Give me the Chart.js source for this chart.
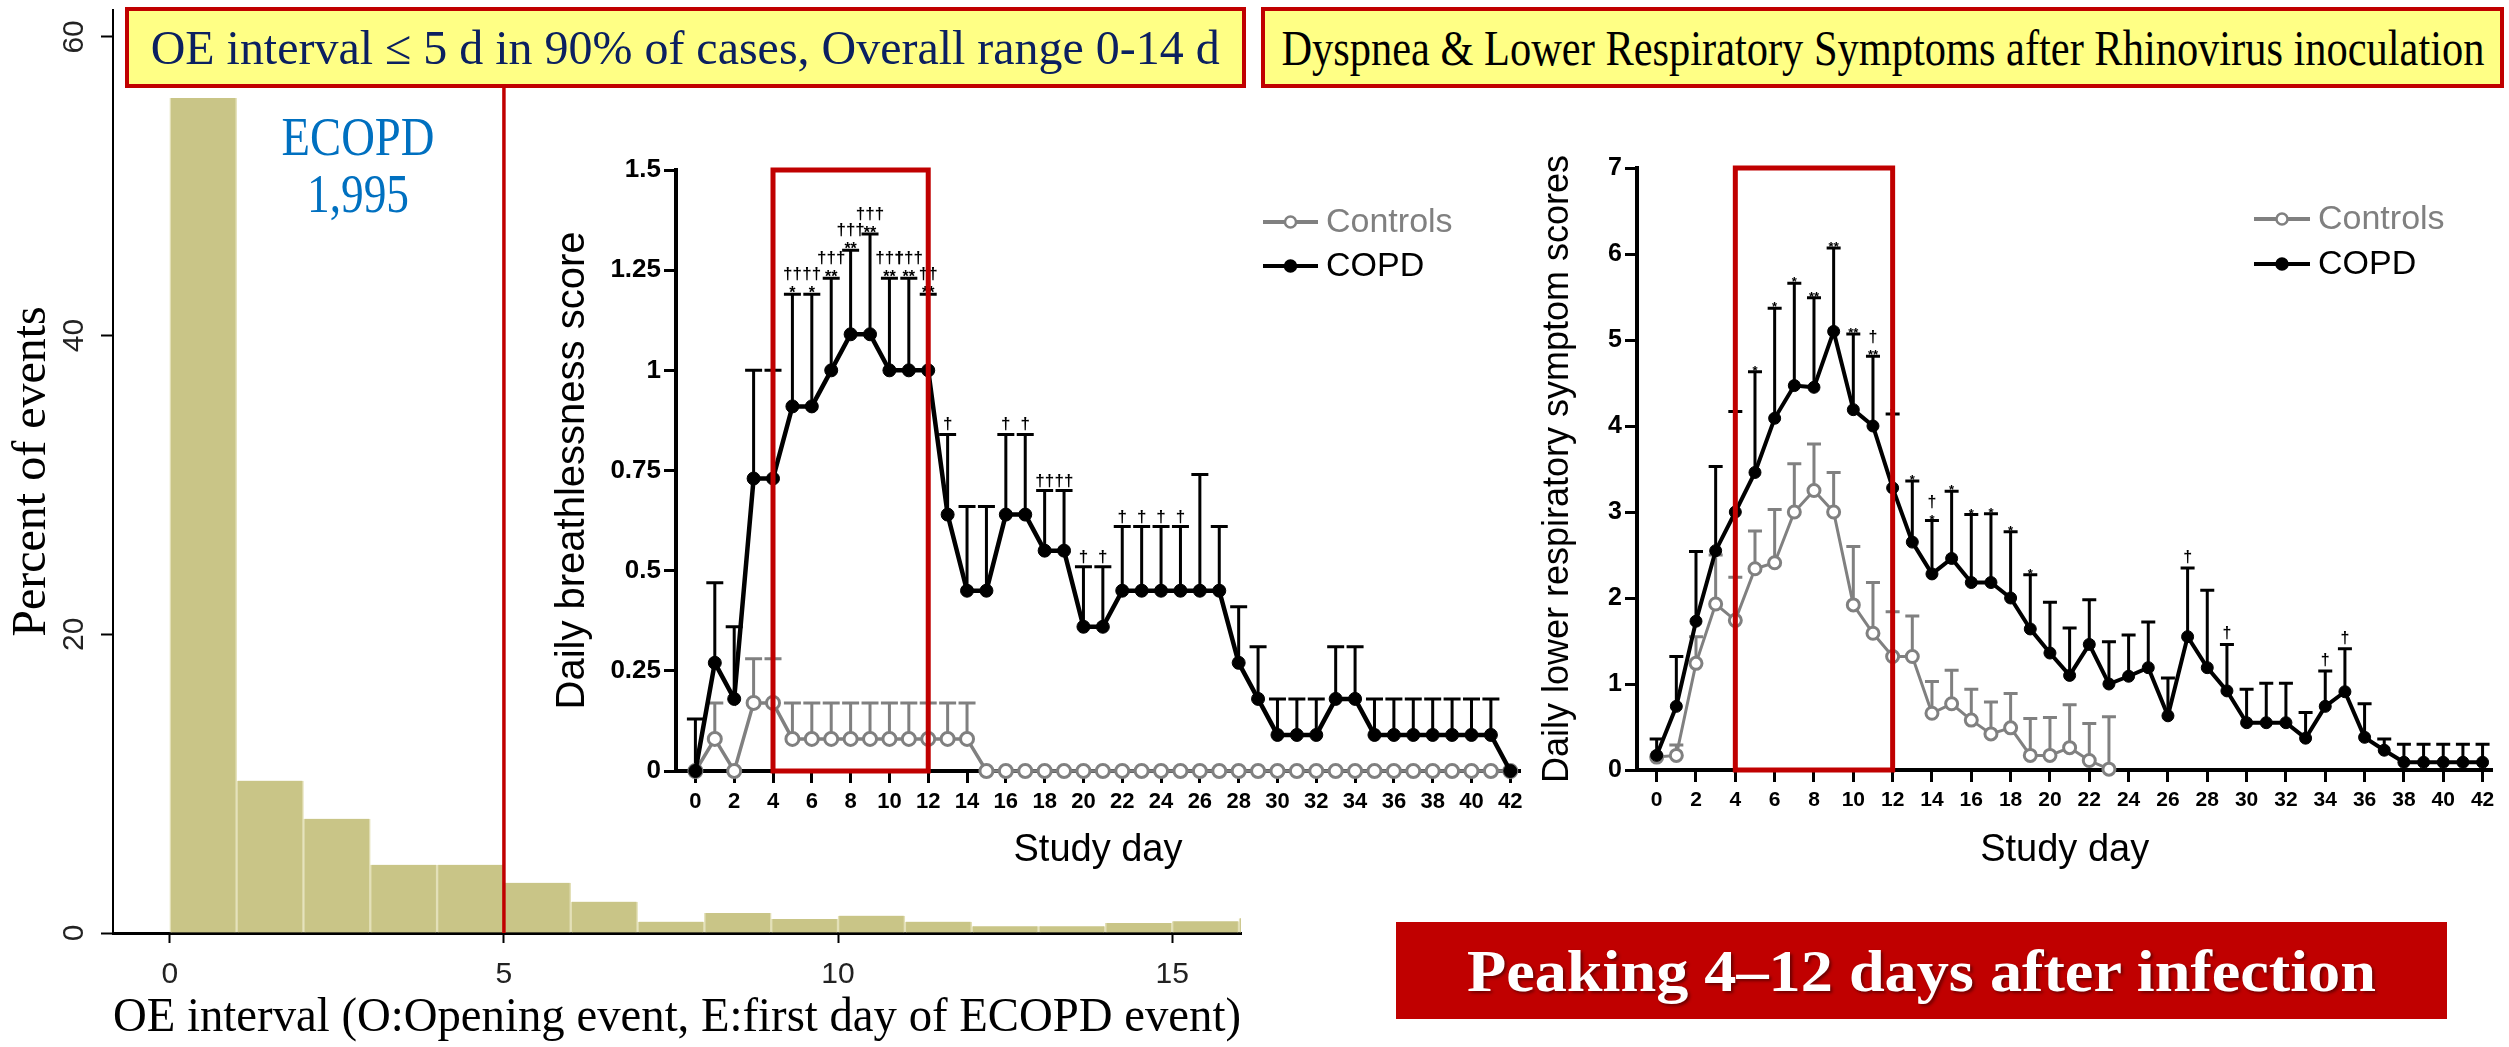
<!DOCTYPE html>
<html>
<head>
<meta charset="utf-8">
<title>Opening event to ECOPD interval and symptom course after rhinovirus inoculation</title>
<script src="https://cdn.jsdelivr.net/npm/chart.js@4.4.1/dist/chart.umd.min.js"></script>
<style>
  html, body { margin: 0; padding: 0; background: #ffffff; }
  #stage { position: relative; width: 2509px; height: 1047px; overflow: hidden; background: #ffffff; }
  .plot { position: absolute; }
  .plot canvas { display: block; }
  .serif { font-family: "Liberation Serif", "Times New Roman", serif; }
  .note { position: absolute; box-sizing: border-box; border: 4px solid #C00000; background: #FFFF85;
          display: flex; align-items: center; justify-content: center; overflow: hidden; }
  .note span, .banner span { display: inline-block; white-space: nowrap; line-height: 1; transform-origin: 50% 50%; }
  .tag { position: absolute; white-space: nowrap; line-height: 1; transform-origin: 50% 50%; }
  .banner { position: absolute; background: #C00000; display: flex; align-items: center; justify-content: center; }
</style>
</head>
<body>
<div id="stage">
  <div class="plot" style="left:0px;top:0px;z-index:1"><canvas id="hist" width="1260" height="1047"></canvas></div>
  <div class="plot" style="left:530px;top:140px;z-index:2"><canvas id="breath" width="1000" height="760"></canvas></div>
  <div class="plot" style="left:1500px;top:140px;z-index:2"><canvas id="lrs" width="1009" height="760"></canvas></div>

  <div class="note" style="left:125px;top:7px;width:1121px;height:81px;z-index:3">
    <span class="serif fit" data-w="1069" style="font-size:49px;color:#0B2060">OE interval ≤ 5 d in 90% of cases, Overall range 0-14 d</span>
  </div>
  <div class="note" style="left:1261px;top:7px;width:1243px;height:81px;z-index:3">
    <span class="serif fit" data-w="1203" style="font-size:50px;color:#000000">Dyspnea &amp; Lower Respiratory Symptoms after Rhinovirus inoculation</span>
  </div>
  <div class="tag serif fit" data-w="153" data-center="1" style="left:358px;top:110px;font-size:54px;color:#0070C0;z-index:3">ECOPD</div>
  <div class="tag serif fit" data-w="102" data-center="1" style="left:358px;top:167px;font-size:54px;color:#0070C0;z-index:3">1,995</div>
  <div class="banner" style="left:1396px;top:922px;width:1051px;height:97px;z-index:3">
    <span class="serif fit" data-w="909" style="font-size:60px;font-weight:bold;color:#ffffff;text-shadow:2px 2px 3px rgba(0,0,0,0.45)">Peaking 4–12 days after infection</span>
  </div>
</div>

<script>
// ---------- Histogram: OE interval (days) ----------
const oeBinStart = [0, 1, 2, 3, 4, 5, 6, 7, 8, 9, 10, 11, 12, 13, 14, 15, 16];
const oePercent  = [55.9, 10.2, 7.65, 4.57, 4.57, 3.36, 2.1, 0.76, 1.34, 0.94, 1.16, 0.76, 0.45, 0.45, 0.67, 0.78, 0.98];
const oeXTicks = [0, 5, 10, 15];
const oeYTicks = [0, 20, 40, 60];
const oeCutoff = 5;

// ---------- Study days after inoculation ----------
const studyDays = [0, 1, 2, 3, 4, 5, 6, 7, 8, 9, 10, 11, 12, 13, 14, 15, 16, 17, 18, 19, 20,
                   21, 22, 23, 24, 25, 26, 27, 28, 29, 30, 31, 32, 33, 34, 35, 36, 37, 38, 39, 40, 41, 42];
const dayTicks = [0, 2, 4, 6, 8, 10, 12, 14, 16, 18, 20, 22, 24, 26, 28, 30, 32, 34, 36, 38, 40, 42];
const peakWindow = [4, 12];

// ---------- Daily breathlessness score (mean and upper error limit) ----------
const breathYTicks  = [0, 0.25, 0.5, 0.75, 1, 1.25, 1.5];
const breathYLabels = ['0', '0.25', '0.5', '0.75', '1', '1.25', '1.5'];
const breathCtrl      = [0, 0.08, 0, 0.17, 0.17, 0.08, 0.08, 0.08, 0.08, 0.08, 0.08, 0.08, 0.08, 0.08, 0.08,
                         0, 0, 0, 0, 0, 0, 0, 0, 0, 0, 0, 0, 0, 0, 0, 0, 0, 0, 0, 0, 0, 0, 0, 0, 0, 0, 0, 0];
const breathCtrlUpper = [null, 0.17, null, 0.28, 0.28, 0.17, 0.17, 0.17, 0.17, 0.17, 0.17, 0.17, 0.17, 0.17, 0.17];
const breathCopd      = [0, 0.27, 0.18, 0.73, 0.73, 0.91, 0.91, 1.0, 1.09, 1.09, 1.0, 1.0, 1.0, 0.64, 0.45,
                         0.45, 0.64, 0.64, 0.55, 0.55, 0.36, 0.36, 0.45, 0.45, 0.45, 0.45, 0.45, 0.45, 0.27,
                         0.18, 0.09, 0.09, 0.09, 0.18, 0.18, 0.09, 0.09, 0.09, 0.09, 0.09, 0.09, 0.09, 0];
const breathCopdUpper = [0.13, 0.47, 0.36, 1.0, 1.0, 1.19, 1.19, 1.23, 1.30, 1.34, 1.23, 1.23, 1.19, 0.84, 0.66,
                         0.66, 0.84, 0.84, 0.70, 0.70, 0.51, 0.51, 0.61, 0.61, 0.61, 0.61, 0.74, 0.61, 0.41,
                         0.31, 0.18, 0.18, 0.18, 0.31, 0.31, 0.18, 0.18, 0.18, 0.18, 0.18, 0.18, 0.18, null];
const breathStars   = [[5, '*'], [6, '*'], [7, '**'], [8, '**'], [9, '**'], [10, '**'], [11, '**'], [12, '**']];
const breathDaggers = [[5, '††'], [6, '††'], [7, '†††'], [8, '†††'], [9, '†††'], [10, '†††'], [11, '†††'], [12, '††'],
                       [13, '†'], [16, '†'], [17, '†'], [18, '††'], [19, '††'], [20, '†'], [21, '†'],
                       [22, '†'], [23, '†'], [24, '†'], [25, '†']];

// ---------- Daily lower respiratory symptom scores ----------
const lrsYTicks = [0, 1, 2, 3, 4, 5, 6, 7];
const lrsCtrl      = [0.15, 0.17, 1.24, 1.93, 1.74, 2.34, 2.41, 3.0, 3.25, 3.0, 1.92, 1.59, 1.32, 1.32, 0.66,
                      0.77, 0.58, 0.42, 0.49, 0.17, 0.17, 0.26, 0.11, 0.01];
const lrsCtrlUpper = [null, 0.29, 1.55, 2.50, 2.24, 2.78, 3.03, 3.56, 3.79, 3.46, 2.60, 2.18, 1.84, 1.79, 1.03,
                      1.16, 0.94, 0.79, 0.89, 0.60, 0.61, 0.76, 0.54, 0.62];
const lrsCopd      = [0.17, 0.74, 1.73, 2.55, 3.0, 3.46, 4.09, 4.47, 4.45, 5.10, 4.19, 4.0, 3.28, 2.65, 2.28,
                      2.46, 2.18, 2.18, 2.0, 1.64, 1.36, 1.10, 1.46, 1.0, 1.09, 1.19, 0.63, 1.55, 1.19, 0.92,
                      0.55, 0.55, 0.55, 0.37, 0.74, 0.91, 0.38, 0.23, 0.09, 0.09, 0.09, 0.09, 0.09];
const lrsCopdUpper = [0.36, 1.32, 2.54, 3.53, 4.17, 4.63, 5.37, 5.66, 5.49, 6.07, 5.07, 4.81, 4.14, 3.36, 2.90,
                      3.24, 2.97, 2.98, 2.77, 2.27, 1.95, 1.65, 1.98, 1.49, 1.57, 1.72, 1.07, 2.35, 2.09, 1.46,
                      0.94, 1.01, 1.01, 0.67, 1.15, 1.41, 0.77, 0.36, 0.30, 0.30, 0.30, 0.30, 0.30];
const lrsStars   = [[5, '*'], [6, '*'], [7, '*'], [8, '**'], [9, '**'], [10, '**'], [11, '**'], [12, '*'],
                    [13, '*'], [14, '*'], [15, '*'], [16, '*'], [17, '*'], [18, '*'], [19, '*']];
const lrsDaggers = [[11, '†'], [14, '†'], [27, '†'], [29, '†'], [34, '†'], [35, '†']];

// ---------- Scale helpers ----------
const fixedTicks = list => scale => { scale.ticks = list.map(v => ({ value: v })); };
const fixWidth = w => scale => { scale.width = w; };
const fixHeight = h => scale => { scale.height = h; };
const asPoints = vals => vals.map((v, i) => ({ x: studyDays[i], y: v }));

// Stretch each text run horizontally to its set width
document.querySelectorAll('.fit').forEach(el => {
  const w = el.getBoundingClientRect().width;
  const s = (+el.dataset.w) / w;
  el.style.transform = (el.dataset.center ? 'translateX(-50%) ' : '') + 'scaleX(' + s + ')';
});

// ---------- Plugins ----------
// Rotated y labels and the cut-off line of the histogram
const oeOverlay = {
  id: 'oeOverlay',
  afterDatasetsDraw(chart, args, o) {
    const { ctx, chartArea } = chart;
    const x = chart.scales.x, y = chart.scales.y;
    ctx.save();
    ctx.strokeStyle = '#C00000';
    ctx.lineWidth = 3.5;
    const px = x.getPixelForValue(oeCutoff);
    ctx.beginPath(); ctx.moveTo(px, chartArea.top); ctx.lineTo(px, chartArea.bottom); ctx.stroke();
    ctx.fillStyle = '#222';
    ctx.font = '30px "Liberation Sans", Arial, sans-serif';
    ctx.textAlign = 'center';
    ctx.textBaseline = 'middle';
    oeYTicks.forEach(v => {
      ctx.save();
      ctx.translate(o.labelX, y.getPixelForValue(v));
      ctx.rotate(-Math.PI / 2);
      ctx.fillText(String(v), 0, 0);
      ctx.restore();
    });
    ctx.restore();
  }
};

// One-sided error bars from each dataset's errorUpper list
const errorBars = {
  id: 'errorBars',
  beforeDatasetsDraw(chart, args, o) {
    const { ctx } = chart;
    const y = chart.scales.y;
    chart.data.datasets.forEach((ds, di) => {
      if (!ds.errorUpper) return;
      const meta = chart.getDatasetMeta(di);
      ctx.save();
      ctx.strokeStyle = ds.borderColor;
      ctx.lineWidth = o.width;
      meta.data.forEach((pt, i) => {
        const up = ds.errorUpper[i];
        if (up == null || ds.data[i] == null || ds.data[i].y == null) return;
        const yTop = y.getPixelForValue(up);
        ctx.beginPath();
        ctx.moveTo(pt.x, pt.y); ctx.lineTo(pt.x, yTop);
        ctx.moveTo(pt.x - o.cap, yTop); ctx.lineTo(pt.x + o.cap, yTop);
        ctx.stroke();
      });
      ctx.restore();
    });
  }
};

// Significance symbols above the COPD error bars
const sigMarks = {
  id: 'sigMarks',
  afterDatasetsDraw(chart, args, o) {
    const { ctx } = chart;
    const x = chart.scales.x, y = chart.scales.y;
    const ds = chart.data.datasets[o.datasetIndex];
    const stars = new Map(o.stars), daggers = new Map(o.daggers);
    const marked = new Set([...stars.keys(), ...daggers.keys()]);
    ctx.save();
    ctx.fillStyle = '#000';
    ctx.textAlign = 'center';
    ctx.textBaseline = 'alphabetic';
    marked.forEach(d => {
      const top = y.getPixelForValue(ds.errorUpper[d]);
      const px = x.getPixelForValue(d);
      if (stars.has(d)) {
        ctx.font = o.starFont;
        ctx.fillText(stars.get(d), px, top + o.starDrop);
        if (daggers.has(d)) { ctx.font = o.daggerFont; ctx.fillText(daggers.get(d), px, top - o.daggerRaise); }
      } else {
        ctx.font = o.daggerFont;
        ctx.fillText(daggers.get(d), px, top - o.daggerAlone);
      }
    });
    ctx.restore();
  }
};

// Red frame around the peak window
const peakFrame = {
  id: 'peakFrame',
  afterDraw(chart, args, o) {
    const { ctx } = chart;
    const x = chart.scales.x, y = chart.scales.y;
    const l = x.getPixelForValue(peakWindow[0]), r = x.getPixelForValue(peakWindow[1]);
    const t = y.getPixelForValue(o.top), b = y.getPixelForValue(0);
    ctx.save();
    ctx.strokeStyle = '#C00000';
    ctx.lineWidth = 5;
    ctx.strokeRect(l, t, r - l, b - t);
    ctx.restore();
  }
};

// Series key drawn inside the plot
const seriesKey = {
  id: 'seriesKey',
  afterDraw(chart, args, o) {
    const { ctx } = chart;
    ctx.save();
    chart.data.datasets.forEach((ds, i) => {
      const yy = o.y + i * o.rowGap;
      ctx.strokeStyle = ds.borderColor;
      ctx.lineWidth = o.lineWidth;
      ctx.beginPath(); ctx.moveTo(o.x, yy); ctx.lineTo(o.x + o.lineLen, yy); ctx.stroke();
      ctx.beginPath(); ctx.arc(o.x + o.lineLen / 2, yy, o.radius, 0, Math.PI * 2);
      ctx.fillStyle = ds.pointBackgroundColor; ctx.fill();
      ctx.lineWidth = o.markerBorder; ctx.strokeStyle = ds.pointBorderColor; ctx.stroke();
      ctx.fillStyle = ds.borderColor;
      ctx.font = o.font;
      ctx.textAlign = 'left';
      ctx.textBaseline = 'middle';
      ctx.fillText(ds.label, o.x + o.lineLen + o.textGap, yy + 1);
    });
    ctx.restore();
  }
};

const sans = 'Liberation Sans';
const serif = 'Liberation Serif';

// ---------- Histogram ----------
new Chart(document.getElementById('hist'), {
  type: 'bar',
  data: {
    datasets: [{
      data: oeBinStart.map((s, i) => ({ x: s + 0.5, y: oePercent[i] })),
      backgroundColor: '#C9C587',
      borderColor: '#E3E0B8',
      borderWidth: { left: 1.5, right: 1.5, top: 0, bottom: 0 },
      borderSkipped: 'start',
      barPercentage: 1,
      categoryPercentage: 1,
      clip: 0
    }]
  },
  options: {
    responsive: false, animation: false, events: [],
    layout: { padding: { left: 0, top: 10, right: 19, bottom: 0 } },
    plugins: { legend: { display: false }, tooltip: { enabled: false }, oeOverlay: { labelX: 75 } },
    scales: {
      x: {
        type: 'linear', min: -0.85, max: 16.03, offset: false,
        afterBuildTicks: fixedTicks(oeXTicks), afterFit: fixHeight(114),
        grid: { offset: false, drawOnChartArea: false, drawTicks: true, tickLength: 10, tickWidth: 2, tickColor: '#000' },
        border: { display: true, color: '#000', width: 3 },
        ticks: { font: { family: sans, size: 30 }, color: '#222', padding: 14, maxRotation: 0, autoSkip: false },
        title: { display: true, text: 'OE interval (O:Opening event, E:first day of ECOPD event)',
                 font: { family: serif, size: 48 }, color: '#000', padding: { top: 0, bottom: 0 } }
      },
      y: {
        min: 0, max: 61.8,
        afterBuildTicks: fixedTicks(oeYTicks), afterFit: fixWidth(113),
        grid: { drawOnChartArea: false, drawTicks: true, tickLength: 12, tickWidth: 2, tickColor: '#000' },
        border: { display: true, color: '#000', width: 2 },
        ticks: { display: false },
        title: { display: true, text: 'Percent of events', font: { family: serif, size: 48 }, color: '#000',
                 padding: { top: 4, bottom: 0 } }
      }
    }
  },
  plugins: [oeOverlay]
});

// ---------- Shared day axis ----------
function dayAxis(height, titlePad, labelSize) {
  return {
    type: 'linear', min: -1, max: 42.5,
    afterBuildTicks: fixedTicks(dayTicks), afterFit: fixHeight(height),
    grid: { drawOnChartArea: false, drawTicks: true, tickLength: 12, tickWidth: 3, tickColor: '#000' },
    border: { display: true, color: '#000', width: 4 },
    ticks: { font: { family: sans, size: labelSize, weight: 'bold' }, color: '#000', padding: 6,
             maxRotation: 0, autoSkip: false },
    title: { display: true, text: 'Study day', font: { family: sans, size: 38 }, color: '#000',
             padding: { top: 0, bottom: titlePad } }
  };
}

function seriesStyle(isCopd, lineW, radius) {
  return isCopd
    ? { borderColor: '#000000', borderWidth: lineW, pointRadius: radius, pointBackgroundColor: '#000000',
        pointBorderColor: '#000000', pointBorderWidth: 1, order: 0 }
    : { borderColor: '#808080', borderWidth: lineW - 1, pointRadius: radius, pointBackgroundColor: '#ffffff',
        pointBorderColor: '#808080', pointBorderWidth: 3, order: 1 };
}

// ---------- Daily breathlessness score ----------
new Chart(document.getElementById('breath'), {
  type: 'line',
  data: {
    datasets: [
      Object.assign({ label: 'Controls', data: asPoints(breathCtrl), errorUpper: breathCtrlUpper,
                      tension: 0, clip: false }, seriesStyle(false, 4.5, 6.5)),
      Object.assign({ label: 'COPD', data: asPoints(breathCopd), errorUpper: breathCopdUpper,
                      tension: 0, clip: false }, seriesStyle(true, 4.5, 6.5))
    ]
  },
  options: {
    responsive: false, animation: false, events: [],
    layout: { padding: { left: 10, top: 30, right: 10, bottom: 0 } },
    plugins: {
      legend: { display: false }, tooltip: { enabled: false },
      errorBars: { width: 3, cap: 8.5 },
      sigMarks: { datasetIndex: 1, stars: breathStars, daggers: breathDaggers,
                  starFont: 'bold 16px "Liberation Sans", Arial, sans-serif',
                  daggerFont: 'bold 17px "Liberation Sans", Arial, sans-serif',
                  starDrop: 4, daggerRaise: 15, daggerAlone: 5 },
      peakFrame: { top: 1.5 },
      seriesKey: { x: 733, y: 82, rowGap: 44, lineLen: 55, lineWidth: 4, radius: 5.5, markerBorder: 2.5,
                   textGap: 8, font: '34px "Liberation Sans", Arial, sans-serif' }
    },
    scales: {
      x: dayAxis(129, 27, 22),
      y: {
        min: 0, max: 1.5,
        afterBuildTicks: fixedTicks(breathYTicks), afterFit: fixWidth(136),
        grid: { drawOnChartArea: false, drawTicks: true, tickLength: 12, tickWidth: 3, tickColor: '#000' },
        border: { display: true, color: '#000', width: 4 },
        ticks: { font: { family: sans, size: 26, weight: 'bold' }, color: '#000', padding: 3,
                 callback: (v, i) => breathYLabels[i] },
        title: { display: true, text: 'Daily breathlessness score', font: { family: sans, size: 40 }, color: '#000',
                 padding: { top: 9, bottom: 0 } }
      }
    }
  },
  plugins: [errorBars, sigMarks, peakFrame, seriesKey]
});

// ---------- Daily lower respiratory symptom scores ----------
new Chart(document.getElementById('lrs'), {
  type: 'line',
  data: {
    datasets: [
      Object.assign({ label: 'Controls', data: asPoints(lrsCtrl), errorUpper: lrsCtrlUpper,
                      tension: 0, clip: false }, seriesStyle(false, 4, 6)),
      Object.assign({ label: 'COPD', data: asPoints(lrsCopd), errorUpper: lrsCopdUpper,
                      tension: 0, clip: false }, seriesStyle(true, 4, 6))
    ]
  },
  options: {
    responsive: false, animation: false, events: [],
    layout: { padding: { left: 10, top: 28, right: 16.6, bottom: 0 } },
    plugins: {
      legend: { display: false }, tooltip: { enabled: false },
      errorBars: { width: 3, cap: 7 },
      sigMarks: { datasetIndex: 1, stars: lrsStars, daggers: lrsDaggers,
                  starFont: 'bold 13px "Liberation Sans", Arial, sans-serif',
                  daggerFont: 'bold 16px "Liberation Sans", Arial, sans-serif',
                  starDrop: 3, daggerRaise: 14, daggerAlone: 6 },
      peakFrame: { top: 7 },
      seriesKey: { x: 754, y: 79, rowGap: 45, lineLen: 56, lineWidth: 4, radius: 5.5, markerBorder: 2.5,
                   textGap: 8, font: '34px "Liberation Sans", Arial, sans-serif' }
    },
    scales: {
      x: dayAxis(130, 27, 21),
      y: {
        min: 0, max: 7,
        afterBuildTicks: fixedTicks(lrsYTicks), afterFit: fixWidth(127),
        grid: { drawOnChartArea: false, drawTicks: true, tickLength: 12, tickWidth: 3, tickColor: '#000' },
        border: { display: true, color: '#000', width: 4 },
        ticks: { font: { family: sans, size: 25, weight: 'bold' }, color: '#000', padding: 3 },
        title: { display: true, text: 'Daily lower respiratory symptom scores', font: { family: sans, size: 36 },
                 color: '#000', padding: { top: 26, bottom: 0 } }
      }
    }
  },
  plugins: [errorBars, sigMarks, peakFrame, seriesKey]
});
</script>
</body>
</html>
